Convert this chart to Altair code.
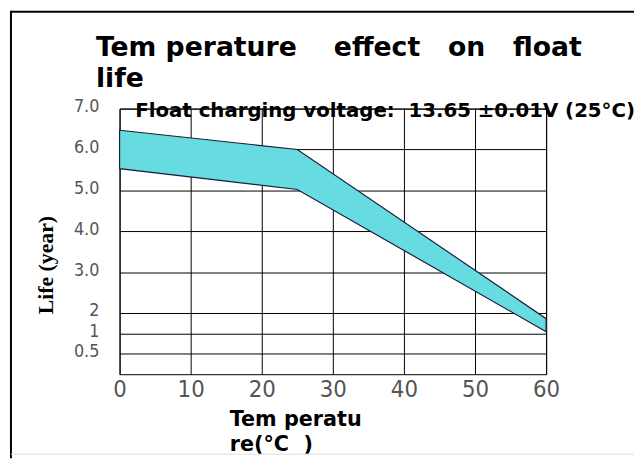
import altair as alt
import pandas as pd

# ---- data ----
temps = [0, 25, 60]
life_upper = [6.47, 6.0, 1.86]
life_lower = [5.53, 5.02, 1.54]

x_ticks = [0, 10, 20, 30, 40, 50, 60]
y_tick_pos = [7, 6, 5, 4, 3, 2, 1.5, 1]
y_tick_labels = ["7.0", "6.0", "5.0", "4.0", "3.0", "2", "1", "0.5"]

title_lines = ["Tem\u00a0perature\u00a0\u00a0\u00a0\u00a0effect\u00a0\u00a0\u00a0on\u00a0\u00a0\u00a0float", "life"]
x_title_lines = ["Tem\u00a0peratu", "re(°C\u00a0\u00a0)"]
y_title = "Life (year)"
note_text = ["Float\u00a0charging\u00a0voltage:\u00a0\u00a013.65\u00a0±0.01V\u00a0(25°C)"]
note_x = [2.2]
note_y = [6.95]

band_df = pd.DataFrame({"temp": temps, "upper": life_upper, "lower": life_lower})
note_df = pd.DataFrame({"x": note_x, "y": note_y, "t": note_text})
one_df = pd.DataFrame({"a": [0]})

label_expr = " : ".join(
    f"datum.value == {p} ? '{l}'" for p, l in zip(y_tick_pos, y_tick_labels)
) + " : ''"

HAND = "DejaVu Sans"
NARROW = "Liberation Sans Narrow, DejaVu Sans Condensed, Roboto Condensed, Roboto, sans-serif"

x_scale = alt.Scale(domain=[0, 60], nice=False, zero=False)
y_scale = alt.Scale(domain=[0.5, 7], nice=False, zero=False)

band = alt.Chart(band_df).mark_area(
    color="#66dce0", stroke="#1c1c3c", strokeWidth=1.2, opacity=1
).encode(
    x=alt.X("temp:Q", scale=x_scale, axis=alt.Axis(
        values=x_ticks, tickCount=20, grid=True, ticks=False, domain=False,
        labelOverlap=False, labelFlush=False,
        labelFont=NARROW, labelFontSize=24, labelColor="#555", labelPadding=4,
        title=x_title_lines, titleX=111, titleY=52, titleAlign="left",
        titleBaseline="alphabetic", titleFont=HAND, titleFontSize=21,
        titleFontWeight="bold", titleLineHeight=25, titleColor="black",
    )),
    y=alt.Y("upper:Q", scale=y_scale, axis=alt.Axis(
        values=y_tick_pos, tickCount=20, labelExpr=label_expr, grid=True, ticks=False,
        domain=False, labelOverlap=False, labelFlush=False,
        labelFont=NARROW, labelFontSize=18, labelColor="#555", labelPadding=21,
        labelOffset=-2,
        title=y_title, titleX=-75, titleY=158, titleAngle=270, titleAlign="center",
        titleBaseline="middle", titleFont="Liberation Serif", titleFontSize=22,
        titleFontWeight="bold", titleColor="black",
    )),
    y2="lower:Q",
)

note = alt.Chart(note_df).mark_text(
    align="left", baseline="middle", font=HAND, fontSize=20, fontWeight="bold", color="black"
).encode(x="x:Q", y="y:Q", text="t:N")

frame_left = alt.Chart(one_df).mark_rule(color="black", strokeWidth=2).encode(
    x=alt.value(-110), y=alt.value(-99), y2=alt.value(354)
)
frame_top = alt.Chart(one_df).mark_rule(color="black", strokeWidth=2).encode(
    x=alt.value(-110), x2=alt.value(521), y=alt.value(-98)
)
frame_bottom = alt.Chart(one_df).mark_rule(color="#dddddd", strokeWidth=1).encode(
    x=alt.value(-110), x2=alt.value(521), y=alt.value(350)
)

chart = alt.layer(frame_left, frame_top, frame_bottom, band, note).properties(
    width=432,
    height=269,
    title=alt.TitleParams(
        text=title_lines, anchor="start", frame="group", font=HAND, fontSize=27,
        fontWeight="bold", color="black", lineHeight=31, dx=-24, offset=0, dy=105,
        baseline="alphabetic",
    ),
    padding={"left": 113, "top": 99, "right": 89, "bottom": 85},
    autosize=alt.AutoSizeParams(type="none"),
).configure_view(
    stroke="black", strokeWidth=1
).configure_axis(
    gridColor="black", gridOpacity=1, gridWidth=1
)

chart.save("out.html", embed_options={"renderer": "svg", "actions": False})
